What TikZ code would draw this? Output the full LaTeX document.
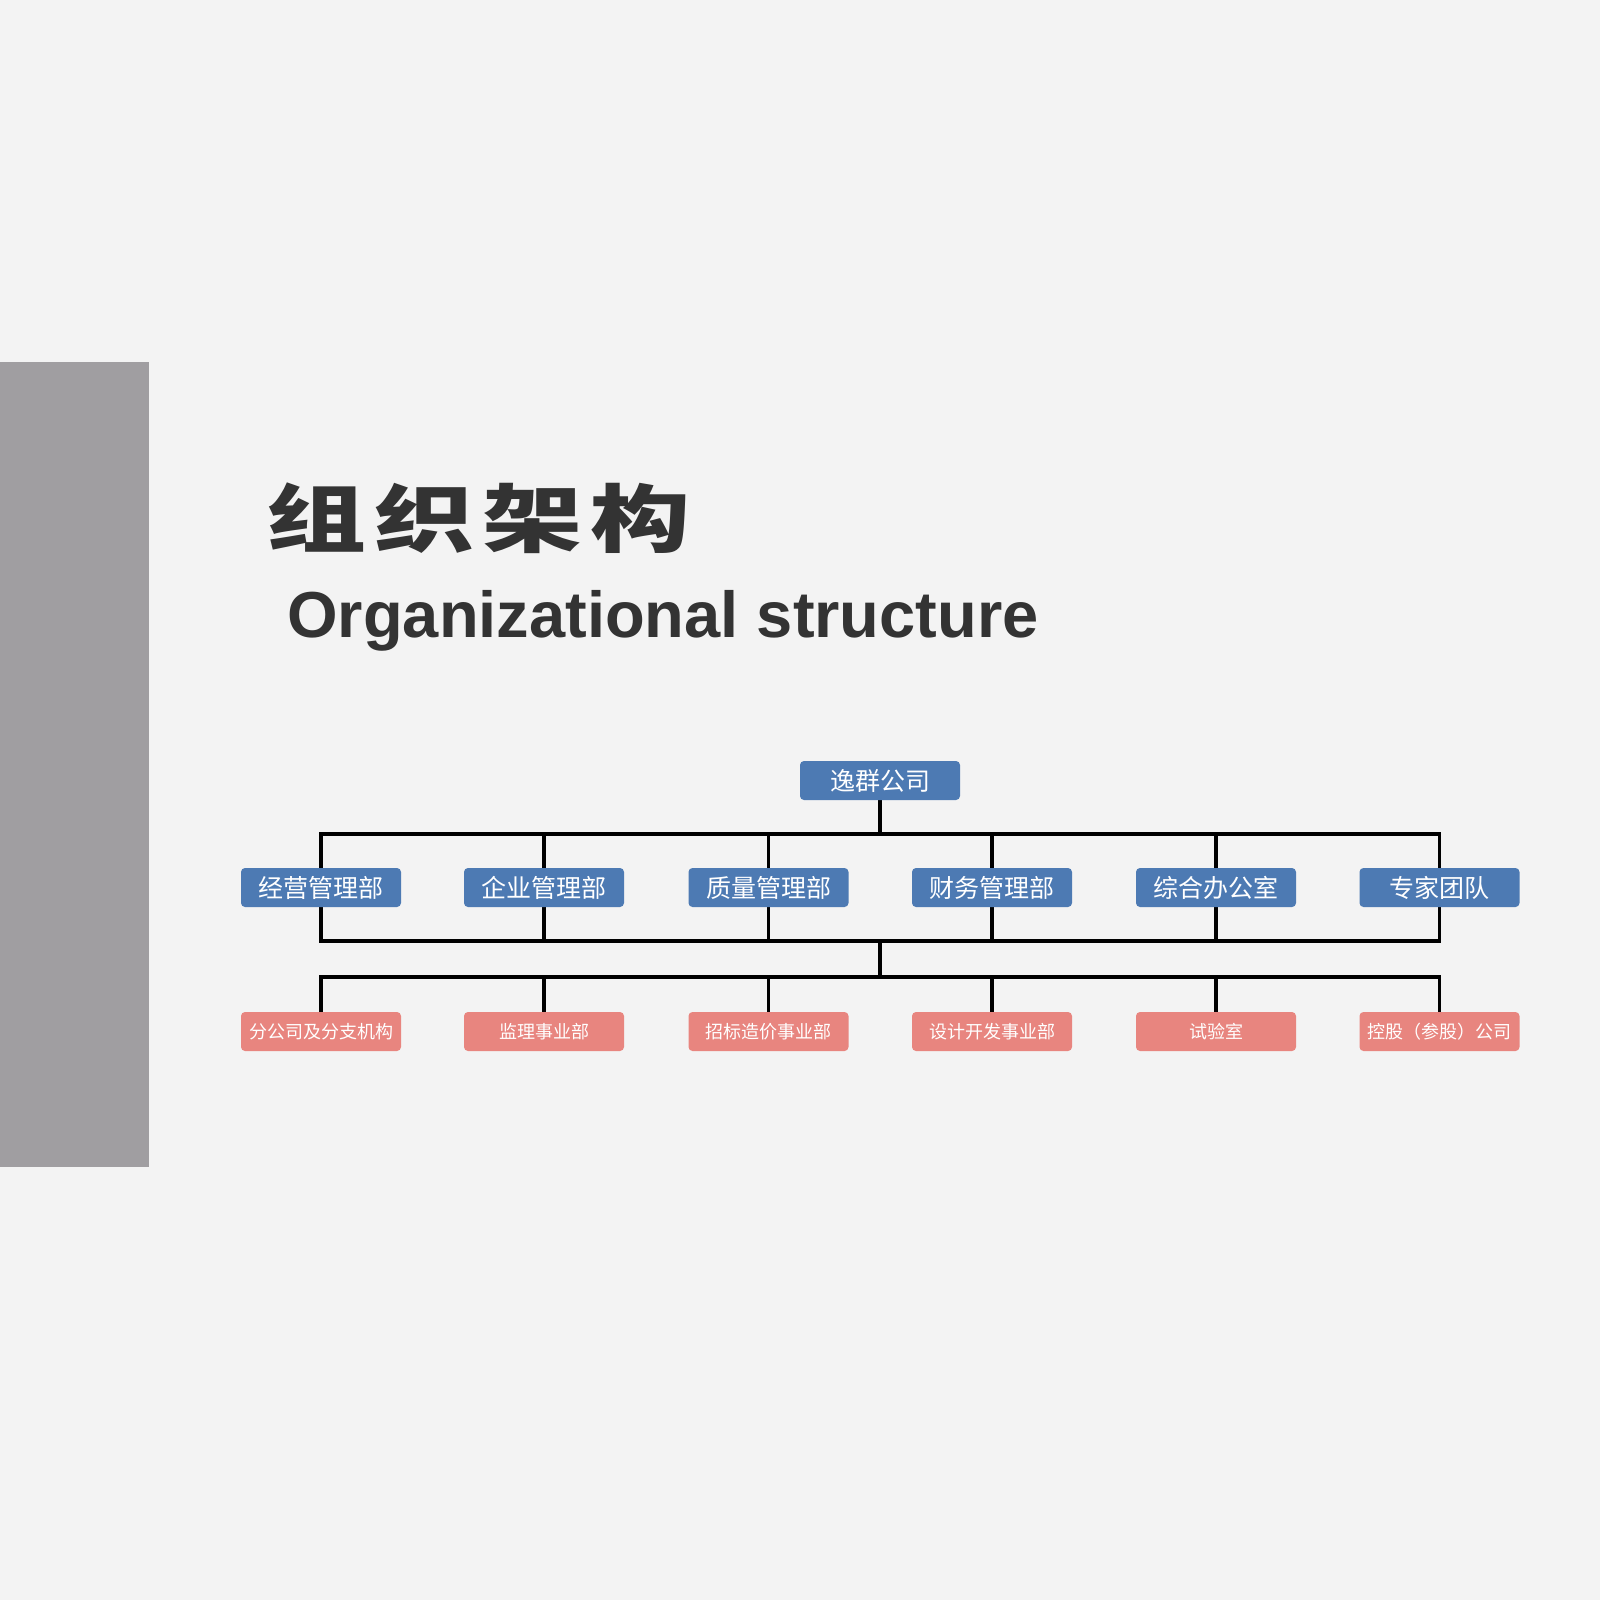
\documentclass[tikz,border=0pt]{standalone}
\usepackage{fontspec}
\usepackage{graphicx}
\setmainfont{Liberation Sans}
\newfontfamily\cjk{Noto Sans CJK SC}
\definecolor{bgcol}{HTML}{F3F3F3}
\definecolor{barg}{HTML}{A09EA1}
\definecolor{boxblue}{HTML}{4D7AB3}
\definecolor{boxpink}{HTML}{E8857F}
\definecolor{txt}{HTML}{333333}
\pgfdeclarelayer{bg}
\pgfdeclarelayer{lines}
\pgfsetlayers{bg,lines,main}
\begin{document}
\begin{tikzpicture}[x=0.5pt,y=-0.5pt,
  dept/.style={fill=boxblue, rounded corners=2pt, minimum width=80pt, minimum height=19.5pt, inner sep=0pt, text=white, font=\cjk\fontsize{12.5pt}{14pt}\selectfont},
  sub/.style={fill=boxpink, rounded corners=2pt, minimum width=80pt, minimum height=19.5pt, inner sep=0pt, text=white, font=\cjk\fontsize{9pt}{11pt}\selectfont},
  conn/.style={draw=black, line width=1.6pt, line cap=rect}
]
\useasboundingbox (0,0) rectangle (1600,1600);
\begin{pgfonlayer}{bg}
\fill[bgcol] (0,0) rectangle (1600,1600);
\fill[barg] (0,362) rectangle (149,1167);
\end{pgfonlayer}

\node[anchor=west, inner sep=0pt, text=txt, font=\cjk\bfseries\fontsize{37pt}{40pt}\selectfont] (title) at (266,518) {\scalebox{1.35}[1]{组\hspace{3pt}织\hspace{3pt}架\hspace{3pt}构}};
\node[anchor=base west, inner sep=0pt, text=txt, font=\bfseries\fontsize{32.5pt}{36pt}\selectfont] (subtitle) at (287,637) {Organizational structure};

\node[dept] (top) at (880,780.5) {逸群公司};

\node[dept] (d1) at (321,887.5) {经营管理部};
\node[dept] (d2) at (544,887.5) {企业管理部};
\node[dept] (d3) at (768.5,887.5) {质量管理部};
\node[dept] (d4) at (992,887.5) {财务管理部};
\node[dept] (d5) at (1216,887.5) {综合办公室};
\node[dept] (d6) at (1439.5,887.5) {专家团队};

\node[sub] (s1) at (321,1031.5) {分公司及分支机构};
\node[sub] (s2) at (544,1031.5) {监理事业部};
\node[sub] (s3) at (768.5,1031.5) {招标造价事业部};
\node[sub] (s4) at (992,1031.5) {设计开发事业部};
\node[sub] (s5) at (1216,1031.5) {试验室};
\node[sub] (s6) at (1439.5,1031.5) {控股（参股）公司};

\coordinate (busA) at (880,834);
\coordinate (busB) at (880,941);
\coordinate (busC) at (880,977);

\begin{pgfonlayer}{lines}
\draw[conn] (top.south) -- (busA);
\draw[conn] (d1 |- busA) -- (d6 |- busA);
\foreach \i in {1,...,6} {
  \draw[conn] (d\i |- busA) -- (d\i |- busB);
  \draw[conn] (s\i |- busC) -- (s\i.north);
}
\draw[conn] (d1 |- busB) -- (d6 |- busB);
\draw[conn] (busB) -- (busC);
\draw[conn] (s1 |- busC) -- (s6 |- busC);
\end{pgfonlayer}
\end{tikzpicture}
\end{document}
